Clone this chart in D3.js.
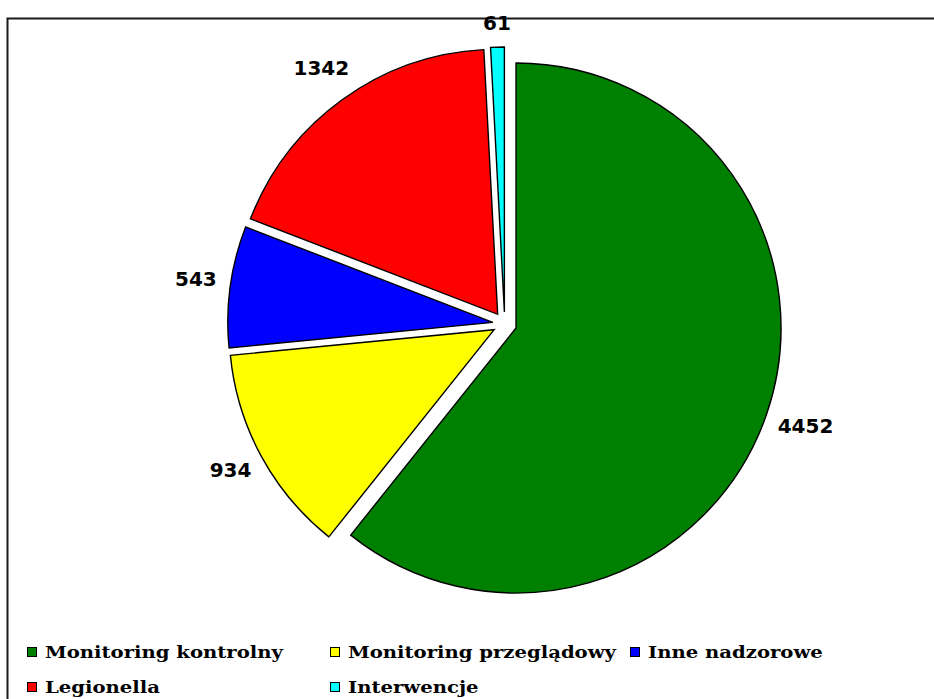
<!DOCTYPE html>
<html>
<head>
<meta charset="utf-8">
<script src="https://cdn.jsdelivr.net/npm/d3@7"></script>
<style>
  html, body { margin: 0; padding: 0; background: #fff; }
  svg { display: block; }
</style>
</head>
<body>
<svg id="chart" width="934" height="699"></svg>
<script>
// Sample counts by monitoring type
const categories = ["Monitoring kontrolny", "Monitoring przeglądowy", "Inne nadzorowe", "Legionella", "Interwencje"];
const values = [4452, 934, 543, 1342, 61];
const colors = ["#008000", "#ffff00", "#0000ff", "#ff0000", "#00ffff"];

const svg = d3.select("#chart");
const W = 934, H = 699;

// Outer frame (runs past the right and bottom edges)
svg.append("rect")
  .attr("x", 7.5).attr("y", 18.5)
  .attr("width", W).attr("height", H)
  .attr("fill", "#fff")
  .attr("stroke", "#1a1a1a")
  .attr("stroke-width", 2);

const cx = 504.7, cy = 324, radius = 265, explode = 12, labelGap = 13;

const data = categories.map((c, i) => ({ name: c, value: values[i], color: colors[i] }));
const pie = d3.pie().sort(null).value(d => d.value);
const arcs = pie(data);
const arc = d3.arc().innerRadius(0).outerRadius(radius);

const g = svg.append("g").attr("transform", `translate(${cx},${cy})`);

function dirOf(a) {
  const m = (a.startAngle + a.endAngle) / 2;
  return [Math.sin(m), -Math.cos(m)];
}

g.selectAll("path.slice")
  .data(arcs)
  .join("path")
  .attr("class", "slice")
  .attr("d", arc)
  .attr("transform", a => {
    const [dx, dy] = dirOf(a);
    return `translate(${dx * explode},${dy * explode})`;
  })
  .attr("fill", a => a.data.color)
  .attr("stroke", "#000")
  .attr("stroke-width", 1.4)
  .attr("stroke-linejoin", "miter");

// Value labels outside each slice
const labels = g.selectAll("text.val")
  .data(arcs)
  .join("text")
  .attr("class", "val")
  .attr("text-anchor", "middle")
  .attr("dominant-baseline", "central")
  .attr("font-family", "'DejaVu Sans', sans-serif")
  .attr("font-weight", "bold")
  .attr("font-size", 20)
  .attr("fill", "#000")
  .text(a => a.data.value);

labels.each(function(a) {
  const [dx, dy] = dirOf(a);
  const bb = this.getBBox();
  const halfProj = Math.abs(dx) * bb.width / 2 + Math.abs(dy) * 15 / 2;
  const dist = radius + explode + labelGap + halfProj;
  d3.select(this).attr("x", dx * dist).attr("y", dy * dist - 3);
});

// Legend: two rows, three columns
const legendCols = [27, 330, 630];
const legendRows = [647, 682];
const legendStretch = 1.19;
const legend = svg.append("g");
data.forEach((d, i) => {
  const col = i % 3, row = Math.floor(i / 3);
  const x = legendCols[col], y = legendRows[row];
  const item = legend.append("g").attr("transform", `translate(${x},${y})`);
  item.append("rect")
    .attr("x", 0.5).attr("y", 0.5)
    .attr("width", 9).attr("height", 9)
    .attr("fill", d.color)
    .attr("stroke", "#000")
    .attr("stroke-width", 1);
  item.append("text")
    .attr("transform", `translate(18,11) scale(${legendStretch},1)`)
    .attr("font-family", "'DejaVu Serif', serif")
    .attr("font-weight", "bold")
    .attr("font-size", 16.5)
    .attr("fill", "#000")
    .text(d.name);
});
</script>
</body>
</html>
